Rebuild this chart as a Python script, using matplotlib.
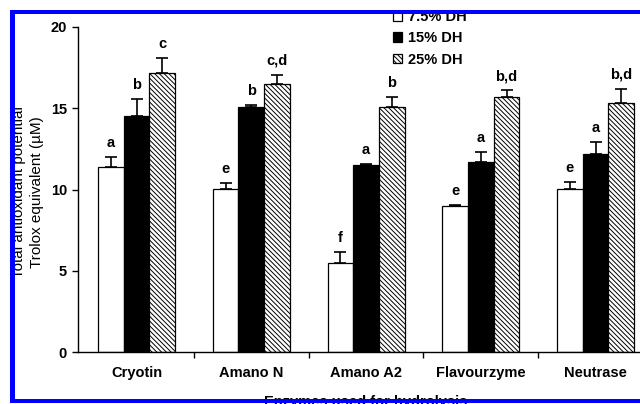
import numpy as np
import matplotlib
matplotlib.use("Agg")
import matplotlib.pyplot as plt
from matplotlib.patches import Rectangle, Patch

plt.rcParams['font.family'] = ['Liberation Sans', 'DejaVu Sans']
plt.rcParams['hatch.linewidth'] = 0.7

enzymes = ['Cryotin', 'Amano N', 'Amano A2', 'Flavourzyme', 'Neutrase']
series = ['7.5% DH', '15% DH', '25% DH']

dh75 = [11.4, 10.05, 5.45, 9.0, 10.05]
dh15 = [14.5, 15.1, 11.5, 11.7, 12.2]
dh25 = [17.2, 16.5, 15.1, 15.7, 15.3]

err75 = [0.6, 0.35, 0.7, 0.05, 0.4]
err15 = [1.05, 0.1, 0.05, 0.6, 0.7]
err25 = [0.9, 0.55, 0.6, 0.4, 0.9]

let75 = ['a', 'e', 'f', 'e', 'e']
let15 = ['b', 'b', 'a', 'a', 'a']
let25 = ['c', 'c,d', 'b', 'b,d', 'b,d']

fig = plt.figure(figsize=(6.4, 4.04), dpi=100)
ax = fig.add_axes([78 / 640, 52 / 404, 575 / 640, 325 / 404])

x = np.arange(len(enzymes))
w = 0.224
styles = [dict(color='white', hatch=None),
          dict(color='black', hatch=None),
          dict(color='white', hatch='\\\\\\\\\\\\\\')]
vals = [dh75, dh15, dh25]
errs = [err75, err15, err25]
lets = [let75, let15, let25]

for i in range(3):
    pos = x + (i - 1) * w
    ax.bar(pos, vals[i], w, color=styles[i]['color'], edgecolor='black',
           linewidth=0.9, hatch=styles[i]['hatch'], zorder=2)
    ax.errorbar(pos, vals[i], yerr=[np.zeros(5), errs[i]], fmt='none',
                ecolor='black', elinewidth=1.2, capsize=4, capthick=1.2, zorder=3)
    for p, v, e, t in zip(pos, vals[i], errs[i], lets[i]):
        ax.annotate(t, (p, v + e), xytext=(0, 5), textcoords='offset points',
                    ha='center', va='bottom', fontsize=10.5, fontweight='bold')

ax.set_xlim(-0.51, 4.5)
ax.set_ylim(0, 20)
ax.set_yticks([0, 5, 10, 15, 20])
ax.set_xticks(np.arange(0.5, 4.5, 1))
ax.set_xticklabels([])
ax.set_xticks(x, minor=True)
ax.set_xticklabels(enzymes, minor=True, fontsize=10.5, fontweight='bold')
ax.tick_params(axis='x', which='minor', length=0, pad=10)
ax.tick_params(axis='x', which='major', length=4, width=1)
ax.tick_params(axis='y', length=4, width=1, pad=4)
for lab in ax.get_yticklabels():
    lab.set_fontsize(10.5)
    lab.set_fontweight('bold')
for s in ['top', 'right']:
    ax.spines[s].set_visible(False)
ax.spines['left'].set_linewidth(1)
ax.spines['bottom'].set_linewidth(1)

ax.set_xlabel('Enzymes used for hydrolysis', fontsize=10.5, fontweight='bold',
              labelpad=11)
fig.text(28 / 640, 1 - 192 / 404,
         'Total antioxidant potential\nTrolox equivalent (\u00b5M)',
         rotation=90, ha='center', va='center', fontsize=11, linespacing=1.3)

handles = [Patch(facecolor=st['color'], edgecolor='black', hatch=st['hatch'],
                 linewidth=0.9) for st in styles]
fig.legend(handles, series, loc='upper left',
           bbox_to_anchor=(393 / 640, 1 - 10 / 404), frameon=False,
           prop={'size': 10.5, 'weight': 'bold'}, borderpad=0, borderaxespad=0,
           handlelength=0.65, handleheight=0.65, handletextpad=0.35,
           labelspacing=0.5)

blue = '#0000ff'
for (x0, y0, ww, hh) in [(10, 10, 640, 4), (10, 10, 5, 393), (10, 399, 640, 4)]:
    fig.patches.append(Rectangle((x0 / 640, 1 - (y0 + hh) / 404), ww / 640,
                                 hh / 404, transform=fig.transFigure,
                                 facecolor=blue, edgecolor='none', zorder=100))

fig.savefig('out.png', dpi=100)
